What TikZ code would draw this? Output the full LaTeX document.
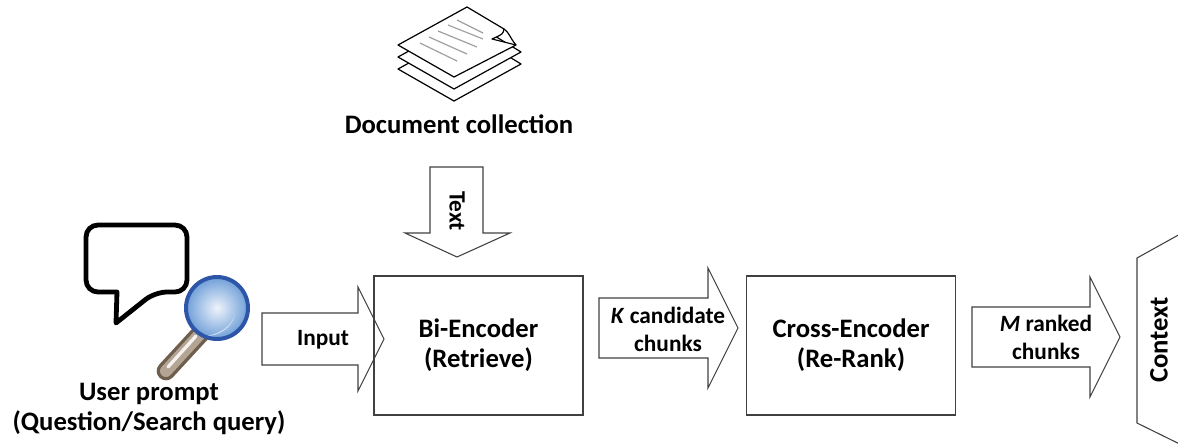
\documentclass[tikz,border=0pt]{standalone}
\usepackage{fontspec}
\setmainfont{Carlito}
\definecolor{lineg}{HTML}{404040}
\definecolor{lensrim}{HTML}{2D55A8}
\definecolor{lensin}{HTML}{EEF3FB}
\definecolor{lensout}{HTML}{6F9FD8}
\definecolor{handdark}{HTML}{6E5E4E}
\definecolor{handlight}{HTML}{B3A493}
\definecolor{papline}{HTML}{A0A0A0}
\newcommand\rblockarrow[6]{% x0, x1 (shaft end), xtip, ymid, shaft half, head half
  \draw[barrow] (#1,#4-#5) -- (#2,#4-#5) -- (#2,#4-#6) -- (#3,#4) -- (#2,#4+#6) -- (#2,#4+#5) -- (#1,#4+#5) -- cycle;}
\newcommand\papersheet[1]{% vertical offset
  \draw[paper] (398,45+#1) -- (467,7+#1) -- (521,40+#1) -- (454,77+#1) -- cycle;}
\begin{document}
\begin{tikzpicture}[x=0.75pt,y=-0.75pt,
  lbl/.style={font=\fontsize{20}{22.5}\selectfont\bfseries, align=center, inner sep=0pt},
  slbl/.style={font=\fontsize{17.5}{21}\selectfont\bfseries, align=center, inner sep=0pt},
  boxnode/.style={draw=lineg, line width=1.1pt, minimum width=156.75pt, minimum height=104.25pt, inner sep=0pt,
    font=\fontsize{20}{22.5}\selectfont\bfseries, align=center},
  barrow/.style={draw=lineg, line width=0.8pt, line join=miter},
  paper/.style={draw=black, fill=white, line width=0.9pt, line join=round},
  bubble/.style={draw=black, line width=3.6pt, line join=round}]
\useasboundingbox (0,0) rectangle (1178,444);
\clip (0,0) rectangle (1178,444);

% ---------- document stack ----------
\papersheet{24}
\papersheet{12}
\draw[paper] (398,45) -- (467,7) -- (504,29) .. controls (503,34) .. (492,39) -- (516,45) -- (454,77) -- cycle;
\draw[paper] (504,29) .. controls (509,32) and (510,38) .. (516,45);
\foreach \a/\b in {{(457,20)/(483,33)},{(448,25)/(483,39)},{(438,31)/(477,47)},{(429,37)/(467,54)},{(420,43)/(457,61)}}
  \draw[papline, line width=0.9pt] \a -- \b;
\node[lbl] (doc) at (459,124) {Document collection};

% ---------- Text arrow (down) ----------
\draw[barrow] (430,167) -- (483,167) -- (483,233) -- (510,233) -- (457,257) -- (405,233) -- (430,233) -- cycle;
\node[slbl, rotate=-90] (textlbl) at (457,211) {Text};

% ---------- user prompt icon ----------
\draw[bubble] (155,292) [sharp corners] -- (116,323) -- (117,292) [rounded corners=9pt] -- (86,292) -- (86,225) -- (187,225) -- (187,292) -- cycle;
\draw[line width=14pt, handdark, line cap=round] (201,333) -- (166,371);
\draw[line width=9pt, handlight, line cap=round] (200,334) -- (166,371);
\draw[line width=2.5pt, white!85!handlight, line cap=round] (196,336) -- (168,367);
\shade[inner color=lensin, outer color=lensout] (217,308) circle[radius=31];
\fill[white, opacity=0.55] (233,320) .. controls (228,330) and (218,336) .. (206,336) .. controls (222,333) and (232,326) .. (235,313) -- cycle;
\draw[lensrim, line width=3pt] (217,308) circle[radius=31];
\node[lbl] (user) at (149,409) {User prompt\\(Question/Search query)};

% ---------- Input arrow ----------
\rblockarrow{262}{358}{384}{339}{26}{52}
\node[slbl] (inlbl) at (323,340) {Input};

% ---------- Bi-Encoder ----------
\node[boxnode] (bi) at (478.5,345.5) {Bi-Encoder\\(Retrieve)};

% ---------- K candidate arrow ----------
\rblockarrow{599}{708}{738}{328}{30}{60}
\node[slbl] (klbl) at (668,329) {\textit{K} candidate\\chunks};

% ---------- Cross-Encoder ----------
\node[boxnode] (cross) at (851,345.5) {Cross-Encoder\\(Re-Rank)};

% ---------- M ranked arrow ----------
\rblockarrow{972}{1090}{1120}{337}{30}{60}
\node[slbl] (mlbl) at (1046,337) {\textit{M} ranked\\chunks};

% ---------- Context ----------
\draw[barrow] (1200,223) -- (1137,258) -- (1137,423) -- (1200,454);
\node[lbl, rotate=90] (ctx) at (1159,340) {Context};
\end{tikzpicture}
\end{document}
